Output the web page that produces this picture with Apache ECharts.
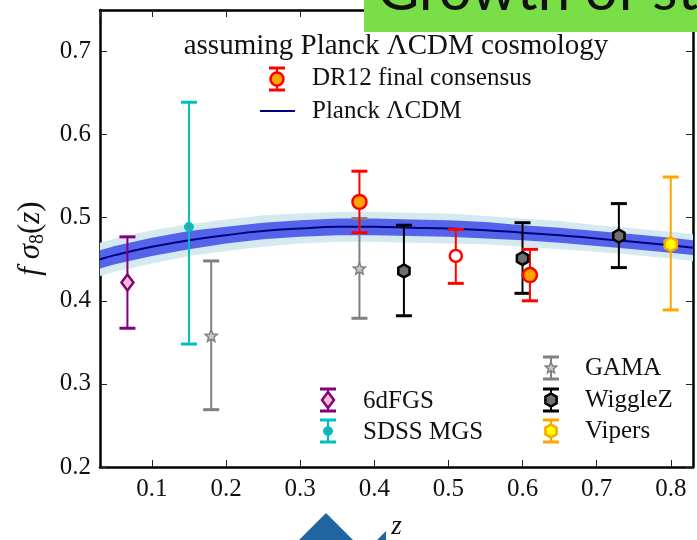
<!DOCTYPE html>
<html>
<head>
<meta charset="utf-8">
<script src="https://cdn.jsdelivr.net/npm/echarts@6/dist/echarts.min.js"></script>
<style>html,body{margin:0;padding:0;background:#fff;}#c{width:697px;height:540px;}</style>
</head>
<body>
<div id="c"></div>
<script>
// ---------- data ----------
const xTicks = [0.1, 0.2, 0.3, 0.4, 0.5, 0.6, 0.7, 0.8];
const yTicks = [0.2, 0.3, 0.4, 0.5, 0.6, 0.7];

// Planck LCDM prediction
const curveZ  = [0.03, 0.05, 0.10, 0.15, 0.20, 0.25, 0.30, 0.35, 0.40, 0.45, 0.50, 0.55, 0.60, 0.65, 0.70, 0.75, 0.80, 0.83];
const curveF  = [0.450, 0.455, 0.465, 0.473, 0.479, 0.484, 0.487, 0.489, 0.489, 0.488, 0.487, 0.485, 0.482, 0.479, 0.475, 0.471, 0.467, 0.464];
const band1   = [0.011, 0.011, 0.011, 0.011, 0.010, 0.010, 0.010, 0.010, 0.010, 0.010, 0.010, 0.010, 0.009, 0.009, 0.009, 0.009, 0.009, 0.009];
const band2   = [0.020, 0.020, 0.020, 0.019, 0.019, 0.019, 0.018, 0.018, 0.018, 0.018, 0.018, 0.017, 0.017, 0.017, 0.016, 0.016, 0.016, 0.016];

// measurements: z, value, low, high
const sixdfZ = [0.067], sixdfF = [0.422], sixdfLo = [0.367], sixdfHi = [0.477];
const mgsZ   = [0.15],  mgsF   = [0.489], mgsLo   = [0.348], mgsHi   = [0.639];
const gamaZ  = [0.18, 0.38], gamaF = [0.358, 0.439], gamaLo = [0.269, 0.379], gamaHi = [0.448, 0.499];
const wigZ   = [0.44, 0.60, 0.73], wigF = [0.436, 0.451, 0.478], wigLo = [0.382, 0.409, 0.440], wigHi = [0.491, 0.494, 0.517];
const vipZ   = [0.80], vipF = [0.468], vipLo = [0.389], vipHi = [0.549];
const dr12Z  = [0.38, 0.61], dr12F = [0.519, 0.431], dr12Lo = [0.482, 0.400], dr12Hi = [0.556, 0.462];
const dr12oZ = [0.51], dr12oF = [0.454], dr12oLo = [0.421], dr12oHi = [0.486];

// ---------- helpers ----------
const FONT = '"Liberation Serif", "Times New Roman", serif';
const HEX = 'path://M0,-1 L0.866,-0.5 L0.866,0.5 L0,1 L-0.866,0.5 L-0.866,-0.5 Z';
const STAR = 'path://M0,-1 L0.265,-0.364 L0.951,-0.309 L0.428,0.139 L0.588,0.809 L0,0.45 L-0.588,0.809 L-0.428,0.139 L-0.951,-0.309 L-0.265,-0.364 Z';

function zip4(z, f, lo, hi) { return z.map((v, i) => [v, f[i], lo[i], hi[i]]); }

function errSeries(name, z, f, lo, hi, color) {
  return {
    type: 'custom', name: name, z: 5,
    data: zip4(z, f, lo, hi),
    encode: { x: 0, y: [1, 2, 3] },
    renderItem: function (params, api) {
      const x = api.value(0);
      const p1 = api.coord([x, api.value(3)]);
      const p2 = api.coord([x, api.value(2)]);
      const cw = 8;
      return {
        type: 'group', children: [
          { type: 'line', shape: { x1: p1[0], y1: p1[1], x2: p2[0], y2: p2[1] }, style: { stroke: color, lineWidth: 2 } },
          { type: 'line', shape: { x1: p1[0] - cw, y1: p1[1], x2: p1[0] + cw, y2: p1[1] }, style: { stroke: color, lineWidth: 3 } },
          { type: 'line', shape: { x1: p2[0] - cw, y1: p2[1], x2: p2[0] + cw, y2: p2[1] }, style: { stroke: color, lineWidth: 3 } }
        ]
      };
    }
  };
}

function markSeries(name, z, f, symbol, size, fill, border, bw) {
  return {
    type: 'scatter', name: name, z: 6,
    data: z.map((v, i) => [v, f[i]]),
    symbol: symbol, symbolSize: size, symbolKeepAspect: true,
    itemStyle: { color: fill, borderColor: border, borderWidth: bw, opacity: 1 },
    emphasis: { disabled: true }
  };
}

function bandSeries(half, color) {
  return {
    type: 'custom', z: 1, silent: true, clip: true,
    data: [[curveZ[0], curveF[0]]],
    renderItem: function (params, api) {
      const up = curveZ.map((z, i) => api.coord([z, curveF[i] + half[i]]));
      const dn = curveZ.map((z, i) => api.coord([z, curveF[i] - half[i]])).reverse();
      return { type: 'polygon', shape: { points: up.concat(dn) }, style: { fill: color } };
    }
  };
}

// legend handles (graphic)
function hexPts(cx, cy, r) {
  const p = [];
  for (let k = 0; k < 6; k++) { const a = -Math.PI / 2 + k * Math.PI / 3; p.push([cx + r * Math.cos(a), cy + r * Math.sin(a)]); }
  return p;
}
function starPts(cx, cy, r) {
  const p = [];
  for (let k = 0; k < 10; k++) { const a = -Math.PI / 2 + k * Math.PI / 5; const rr = k % 2 ? r * 0.45 : r; p.push([cx + rr * Math.cos(a), cy + rr * Math.sin(a)]); }
  return p;
}
function handle(cx, cy, color, marker) {
  const h = 11, cw = 8;
  const els = [
    { type: 'line', shape: { x1: cx, y1: cy - h, x2: cx, y2: cy + h }, style: { stroke: color, lineWidth: 2 } },
    { type: 'line', shape: { x1: cx - cw, y1: cy - h, x2: cx + cw, y2: cy - h }, style: { stroke: color, lineWidth: 3 } },
    { type: 'line', shape: { x1: cx - cw, y1: cy + h, x2: cx + cw, y2: cy + h }, style: { stroke: color, lineWidth: 3 } }
  ];
  return els.concat(Array.isArray(marker) ? marker : [marker]);
}
function label(x, y, txt, size) {
  return { type: 'text', x: x, y: y, style: { text: txt, font: (size || 25) + 'px ' + FONT, fill: '#111', verticalAlign: 'middle', align: 'left' } };
}

const legendEls = [].concat(
  [{ type: 'text', x: 396, y: 46, style: { text: 'assuming Planck ΛCDM cosmology', font: '29px ' + FONT, fill: '#111', align: 'center', verticalAlign: 'middle' } }],
  handle(277, 79, '#ff0000', { type: 'circle', shape: { cx: 277, cy: 79, r: 6.5 }, style: { fill: '#ffa500', stroke: '#ff0000', lineWidth: 2.5 } }),
  [label(312, 78, 'DR12 final consensus')],
  [{ type: 'line', shape: { x1: 260, y1: 111, x2: 295, y2: 111 }, style: { stroke: '#000080', lineWidth: 2 } }],
  [label(312, 111, 'Planck ΛCDM')],
  handle(328, 400, '#800080', { type: 'polygon', shape: { points: [[328, 392], [334, 400], [328, 408], [322, 400]] }, style: { fill: '#ffc0cb', stroke: '#800080', lineWidth: 2.5 } }),
  [label(363, 401, '6dFGS')],
  handle(328, 431, '#00bfbf', [
    { type: 'circle', shape: { cx: 328, cy: 431, r: 4.5 }, style: { fill: '#00bfbf', stroke: '#00bfbf', lineWidth: 1 } },
    { type: 'circle', shape: { cx: 328, cy: 431, r: 1.5 }, style: { fill: '#808080' } }
  ]),
  [label(363, 432, 'SDSS MGS')],
  handle(551, 368, '#808080', { type: 'polygon', shape: { points: starPts(551, 368, 6) }, style: { fill: '#c8c8c8', stroke: '#808080', lineWidth: 1.5 } }),
  [label(585, 368, 'GAMA')],
  handle(551, 400, '#000000', { type: 'polygon', shape: { points: hexPts(551, 400, 6.5) }, style: { fill: '#707070', stroke: '#000000', lineWidth: 2.5 } }),
  [label(585, 400, 'WiggleZ')],
  handle(551, 431, '#ffa500', { type: 'polygon', shape: { points: hexPts(551, 431, 6.5) }, style: { fill: '#ffff00', stroke: '#ffa500', lineWidth: 2.5 } }),
  [label(585, 431, 'Vipers')]
);

const decoEls = [
  { type: 'rect', shape: { x: 364, y: 0, width: 333, height: 32 }, style: { fill: '#7ade48' }, z: 100 },
  { type: 'text', x: 377, y: -9, z: 101, style: { text: 'Growth of structure', font: '58px Lato, "Open Sans", sans-serif', fill: '#111', verticalAlign: 'middle' } },
  { type: 'polygon', shape: { points: [[326, 513], [297, 542], [355, 542]] }, style: { fill: '#2165a0' }, z: 100 },
  { type: 'polygon', shape: { points: [[386, 531], [375, 542], [386, 542]] }, style: { fill: '#2165a0' }, z: 100 }
];

const axisLabelX = { fontFamily: FONT, fontSize: 25, color: '#111', margin: 10, showMinLabel: false, showMaxLabel: false,
  formatter: v => (xTicks.some(t => Math.abs(t - v) < 1e-6) ? v.toFixed(1) : '') };
const axisLabelY = { fontFamily: FONT, fontSize: 25, color: '#111', margin: 9, showMaxLabel: false,
  formatter: v => (yTicks.some(t => Math.abs(t - v) < 1e-6) ? v.toFixed(1) : '') };
const tick = { show: true, inside: true, length: 7, lineStyle: { color: '#222', width: 1 } };
const line = { show: true, onZero: false, lineStyle: { color: '#000', width: 2.5 } };

const option = {
  animation: false,
  backgroundColor: '#fff',
  grid: { left: 100, top: 10, right: 4, bottom: 73, containLabel: false, outerBoundsMode: 'none' },
  xAxis: [
    { type: 'value', min: 0.03, max: 0.83, splitNumber: 8, axisLine: line, axisTick: tick, axisLabel: axisLabelX, splitLine: { show: false },
      name: 'z', nameLocation: 'middle', nameGap: 46, nameTextStyle: { fontFamily: FONT, fontStyle: 'italic', fontSize: 27, color: '#111' } },
    { type: 'value', position: 'top', min: 0.03, max: 0.83, splitNumber: 8, axisLine: line, axisTick: tick, axisLabel: { show: false }, splitLine: { show: false } }
  ],
  yAxis: [
    { type: 'value', min: 0.2, max: 0.75, interval: 0.1, axisLine: line, axisTick: tick, axisLabel: axisLabelY, splitLine: { show: false },
      name: '{i|f }{g|σ}{s|8}{n|(}{i|z}{n|)}', nameLocation: 'middle', nameGap: 52, nameRotate: 90,
      nameTextStyle: { rich: {
        i: { fontFamily: FONT, fontStyle: 'italic', fontSize: 31, color: '#111', lineHeight: 34 },
        g: { fontFamily: FONT, fontStyle: 'italic', fontSize: 31, color: '#111', lineHeight: 34 },
        n: { fontFamily: FONT, fontSize: 31, color: '#111', lineHeight: 34 },
        s: { fontFamily: FONT, fontSize: 20, color: '#111', lineHeight: 34, verticalAlign: 'bottom', padding: [11, 0, 0, 0] }
      } } },
    { type: 'value', position: 'right', min: 0.2, max: 0.75, interval: 0.1, axisLine: line, axisTick: tick, axisLabel: { show: false }, splitLine: { show: false } }
  ],
  series: [
    bandSeries(band2, '#d5e9f1'),
    bandSeries(band1, '#5464ea'),
    { type: 'line', z: 2, data: curveZ.map((z, i) => [z, curveF[i]]), smooth: true, showSymbol: false, silent: true,
      lineStyle: { color: '#000080', width: 2 } },
    errSeries('6dFGS', sixdfZ, sixdfF, sixdfLo, sixdfHi, '#800080'),
    markSeries('6dFGS', sixdfZ, sixdfF, 'diamond', [12, 16], '#ffc0cb', '#800080', 2.5),
    errSeries('SDSS MGS', mgsZ, mgsF, mgsLo, mgsHi, '#00bfbf'),
    markSeries('SDSS MGS', mgsZ, mgsF, 'circle', 9, '#00bfbf', '#00bfbf', 1),
    markSeries('SDSS MGS', mgsZ, mgsF, 'circle', 3, '#808080', '#808080', 0),
    errSeries('GAMA', gamaZ, gamaF, gamaLo, gamaHi, '#808080'),
    markSeries('GAMA', gamaZ, gamaF, STAR, 12, '#c8c8c8', '#808080', 1.5),
    errSeries('WiggleZ', wigZ, wigF, wigLo, wigHi, '#000000'),
    markSeries('WiggleZ', wigZ, wigF, HEX, 13, '#707070', '#000000', 2.5),
    errSeries('Vipers', vipZ, vipF, vipLo, vipHi, '#ffa500'),
    markSeries('Vipers', vipZ, vipF, HEX, 14, '#ffff00', '#ffa500', 2.5),
    errSeries('DR12', dr12Z, dr12F, dr12Lo, dr12Hi, '#ff0000'),
    markSeries('DR12', dr12Z, dr12F, 'circle', 14, '#ffa500', '#ff0000', 2.5),
    errSeries('DR12 open', dr12oZ, dr12oF, dr12oLo, dr12oHi, '#ff0000'),
    markSeries('DR12 open', dr12oZ, dr12oF, 'circle', 12, '#ffffff', '#ff0000', 2.5)
  ],
  graphic: legendEls.concat(decoEls)
};

const chart = echarts.init(document.getElementById('c'), null, { renderer: 'canvas' });
chart.setOption(option);
</script>
</body>
</html>
